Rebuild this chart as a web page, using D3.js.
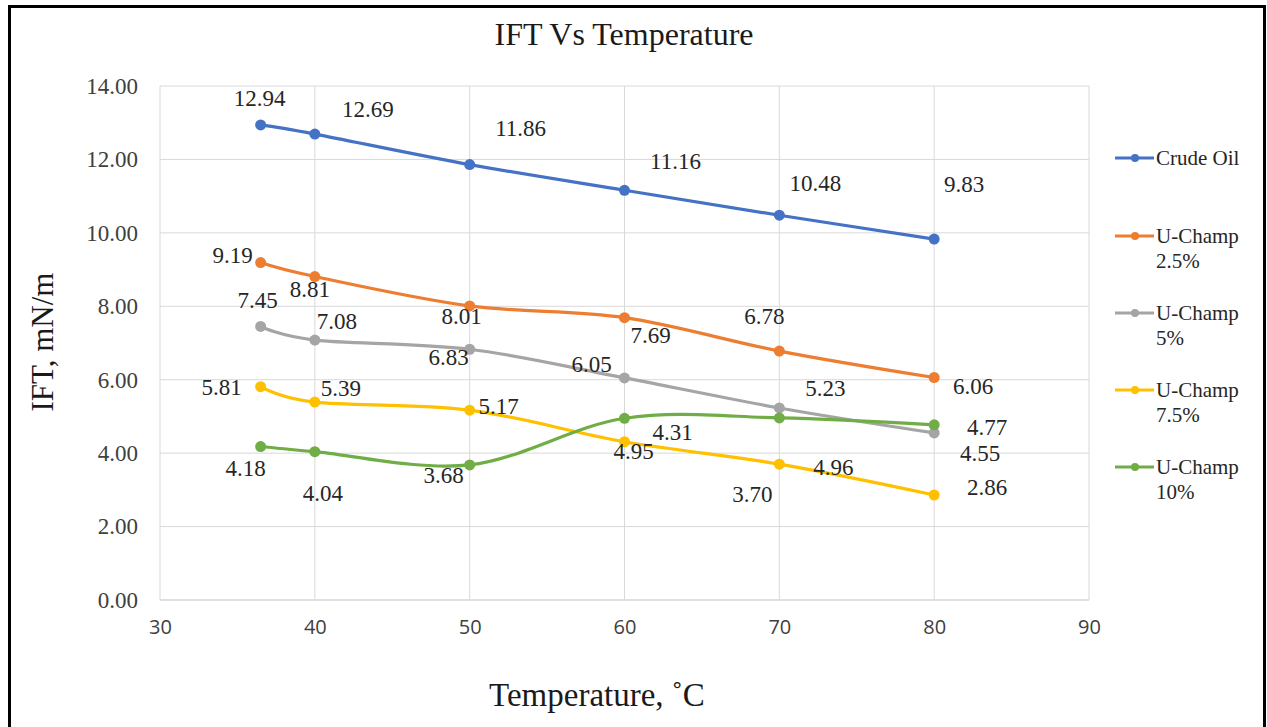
<!DOCTYPE html>
<html><head><meta charset="utf-8">
<script src="https://cdn.jsdelivr.net/npm/d3@7"></script>
<style>
html,body{margin:0;padding:0;background:#fff;}
svg{display:block;}
</style></head>
<body>
<svg id="chart" width="1267" height="727"></svg>
<script>
const temperatures = [36.5, 40, 50, 60, 70, 80];
const seriesNames = ["Crude Oil", "U-Champ 2.5%", "U-Champ 5%", "U-Champ 7.5%", "U-Champ 10%"];
const crudeOil   = [12.94, 12.69, 11.86, 11.16, 10.48, 9.83];
const uChamp2_5  = [9.19, 8.81, 8.01, 7.69, 6.78, 6.06];
const uChamp5    = [7.45, 7.08, 6.83, 6.05, 5.23, 4.55];
const uChamp7_5  = [5.81, 5.39, 5.17, 4.31, 3.70, 2.86];
const uChamp10   = [4.18, 4.04, 3.68, 4.95, 4.96, 4.77];
const xTicks = [30, 40, 50, 60, 70, 80, 90];
const yTicks = [0, 2, 4, 6, 8, 10, 12, 14];

const colors = ["#4472C4", "#ED7D31", "#A5A5A5", "#FFC000", "#70AD47"];
const legendLines = [["Crude Oil"], ["U-Champ", "2.5%"], ["U-Champ", "5%"], ["U-Champ", "7.5%"], ["U-Champ", "10%"]];
// label offsets (px) relative to each point, layout only
const labelOffsets = [
  [[-1,-26],[53,-25],[51,-36],[51,-29],[36,-32],[30,-55]],
  [[-28,-7],[-5,13],[-8,11],[26,18],[-15,-35],[39,9]],
  [[-3,-26],[22,-19],[-21,8],[-33,-13],[46,-19],[46,21]],
  [[-39,1],[26,-14],[29,-4],[48,-9],[-27,30],[53,-7]],
  [[-15,22],[8,42],[-26,11],[9,33],[54,50],[53,3]]
];
const allSeries = [crudeOil, uChamp2_5, uChamp5, uChamp7_5, uChamp10];

const svg = d3.select("#chart");
const x = d3.scaleLinear().domain([30, 90]).range([160, 1089]);
const y = d3.scaleLinear().domain([0, 14]).range([600, 86]);

// outer frame
svg.append("rect").attr("x", 9.5).attr("y", 6.5).attr("width", 1255).attr("height", 740)
  .attr("fill", "none").attr("stroke", "#000").attr("stroke-width", 3);

// gridlines
svg.append("g").selectAll("line.h").data(yTicks).join("line")
  .attr("x1", x(30)).attr("x2", x(90)).attr("y1", d => y(d)).attr("y2", d => y(d))
  .attr("stroke", d => d === 0 ? "#bfbfbf" : "#d9d9d9").attr("stroke-width", 1);
svg.append("g").selectAll("line.v").data(xTicks).join("line")
  .attr("x1", d => x(d)).attr("x2", d => x(d)).attr("y1", y(0)).attr("y2", y(14))
  .attr("stroke", "#d9d9d9").attr("stroke-width", 1);

// axes (tick labels only)
const yAxis = d3.axisLeft(y).tickValues(yTicks).tickFormat(d3.format(".2f")).tickSize(0).tickPadding(22);
const gy = svg.append("g").attr("transform", `translate(${x(30)},0)`).call(yAxis);
gy.select(".domain").remove();
gy.selectAll("text").attr("font-family", "Liberation Serif, serif").attr("font-size", 23).attr("fill", "#404040");

const xAxis = d3.axisBottom(x).tickValues(xTicks).tickSize(0).tickPadding(20);
const gx = svg.append("g").attr("transform", `translate(0,${y(0)})`).call(xAxis);
gx.select(".domain").remove();
gx.selectAll("text").attr("font-family", "Open Sans, sans-serif").attr("font-size", 20).attr("fill", "#404040");

// lines
const line = d3.line().x((d, i) => x(temperatures[i])).y(d => y(d)).curve(d3.curveCatmullRom.alpha(0));
allSeries.forEach((vals, s) => {
  const g = svg.append("g");
  g.append("path").datum(vals).attr("d", line).attr("fill", "none")
    .attr("stroke", colors[s]).attr("stroke-width", 3.2).attr("stroke-linecap", "round");
  g.selectAll("circle").data(vals).join("circle")
    .attr("cx", (d, i) => x(temperatures[i])).attr("cy", d => y(d)).attr("r", 5.5)
    .attr("fill", colors[s]);
});
// labels
allSeries.forEach((vals, s) => {
  svg.append("g").selectAll("text").data(vals).join("text")
    .attr("x", (d, i) => x(temperatures[i]) + labelOffsets[s][i][0])
    .attr("y", (d, i) => y(d) + labelOffsets[s][i][1])
    .attr("text-anchor", "middle").attr("dominant-baseline", "central")
    .attr("font-family", "Liberation Serif, serif").attr("font-size", 23).attr("fill", "#262626")
    .text(d => d.toFixed(2));
});

// title
svg.append("text").attr("x", 624).attr("y", 45).attr("text-anchor", "middle")
  .attr("font-family", "Liberation Serif, serif").attr("font-size", 32).attr("fill", "#1a1a1a")
  .text("IFT Vs Temperature");
// axis titles
svg.append("text").attr("transform", "translate(53,342) rotate(-90)").attr("text-anchor", "middle")
  .attr("font-family", "Liberation Serif, serif").attr("font-size", 31).attr("fill", "#1a1a1a")
  .text("IFT, mN/m");
svg.append("text").attr("x", 597).attr("y", 706).attr("text-anchor", "middle")
  .attr("font-family", "Liberation Serif, serif").attr("font-size", 33).attr("fill", "#1a1a1a")
  .text("Temperature, ˚C");

// legend
const legendY = [158, 236, 313, 390, 467];
const lg = svg.append("g");
seriesNames.forEach((name, s) => {
  const ly = legendY[s];
  lg.append("line").attr("x1", 1115).attr("x2", 1154).attr("y1", ly).attr("y2", ly)
    .attr("stroke", colors[s]).attr("stroke-width", 3);
  lg.append("circle").attr("cx", 1135).attr("cy", ly).attr("r", 4).attr("fill", colors[s]);
  legendLines[s].forEach((t, k) => {
    lg.append("text").attr("x", 1156).attr("y", ly + k * 25).attr("dominant-baseline", "central")
      .attr("font-family", "Liberation Serif, serif").attr("font-size", 21).attr("fill", "#262626")
      .text(t);
  });
});
</script>
</body></html>
